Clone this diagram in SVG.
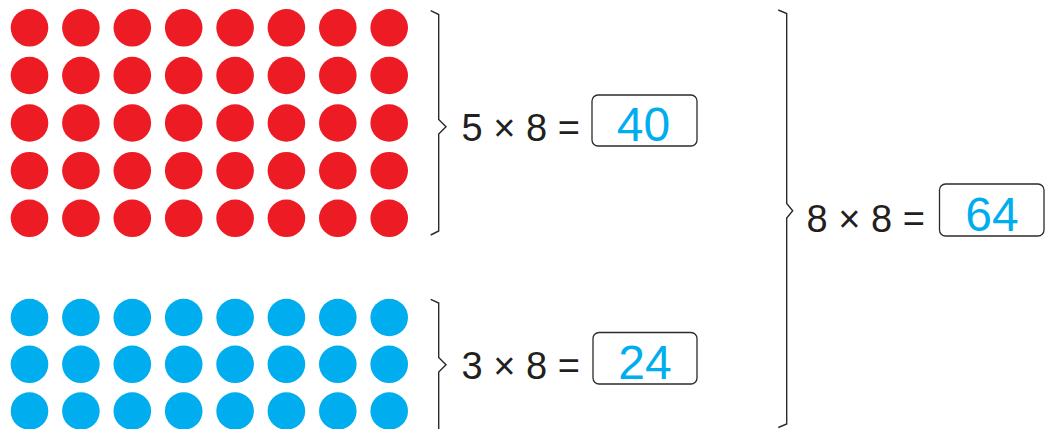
<svg xmlns="http://www.w3.org/2000/svg" width="1046" height="429" viewBox="0 0 1046 429">
<style>
.r{fill:#ED1C24}
.b{fill:#00AEEF}
.br{fill:none;stroke:#2b2b2b;stroke-width:1.4;stroke-linejoin:miter}
.box{fill:#fff;stroke:#2b2b2b;stroke-width:1.3}
.eq{font-family:"Liberation Sans",Arial,sans-serif;font-size:38px;fill:#231F20}
.ans{font-family:"Liberation Sans",Arial,sans-serif;font-size:48px;fill:#00AEEF;text-anchor:middle}
</style>
<defs>
<g id="redrow">
<circle class="r" cx="29.5" cy="0" r="18.8"/><circle class="r" cx="80.9" cy="0" r="18.8"/><circle class="r" cx="132.3" cy="0" r="18.8"/><circle class="r" cx="183.7" cy="0" r="18.8"/><circle class="r" cx="235.1" cy="0" r="18.8"/><circle class="r" cx="286.4" cy="0" r="18.8"/><circle class="r" cx="337.8" cy="0" r="18.8"/><circle class="r" cx="389.2" cy="0" r="18.8"/>
</g>
<g id="bluerow">
<circle class="b" cx="29.5" cy="0" r="18.8"/><circle class="b" cx="80.9" cy="0" r="18.8"/><circle class="b" cx="132.3" cy="0" r="18.8"/><circle class="b" cx="183.7" cy="0" r="18.8"/><circle class="b" cx="235.1" cy="0" r="18.8"/><circle class="b" cx="286.4" cy="0" r="18.8"/><circle class="b" cx="337.8" cy="0" r="18.8"/><circle class="b" cx="389.2" cy="0" r="18.8"/>
</g>
</defs>
<g id="red-dots">
<use href="#redrow" y="27.8"/><use href="#redrow" y="75.5"/><use href="#redrow" y="123"/><use href="#redrow" y="170.7"/><use href="#redrow" y="218.3"/>
</g>
<g id="blue-dots">
<use href="#bluerow" y="317.5"/><use href="#bluerow" y="364.3"/><use href="#bluerow" y="411"/>
</g>
<g id="braces">
<path class="br" d="M430.7,10.7 L438.7,14.5 V119.5 L446,126.7 L438.7,134 V231 L430.7,235"/>
<path class="br" d="M430.7,299.3 L438.7,303 V357.5 L446,364.8 L438.7,372 V432"/>
<path class="br" d="M778.3,10 L786.7,13.5 V203.5 L792.7,210.7 L786.7,218 V424 L778.3,427.5"/>
</g>
<g id="eq1">
<text class="eq" x="461.5" y="141">5 × 8 =</text>
<rect class="box" x="592" y="95" width="105" height="51" rx="6"/>
<text class="ans" x="643.5" y="141">40</text>
</g>
<g id="eq2">
<text class="eq" x="461.5" y="379">3 × 8 =</text>
<rect class="box" x="593" y="332.5" width="104" height="51.5" rx="6"/>
<text class="ans" x="645" y="379">24</text>
</g>
<g id="eq3">
<text class="eq" x="806.5" y="231.5">8 × 8 =</text>
<rect class="box" x="939.5" y="184" width="104.5" height="52" rx="6"/>
<text class="ans" x="992" y="231">64</text>
</g>
</svg>
